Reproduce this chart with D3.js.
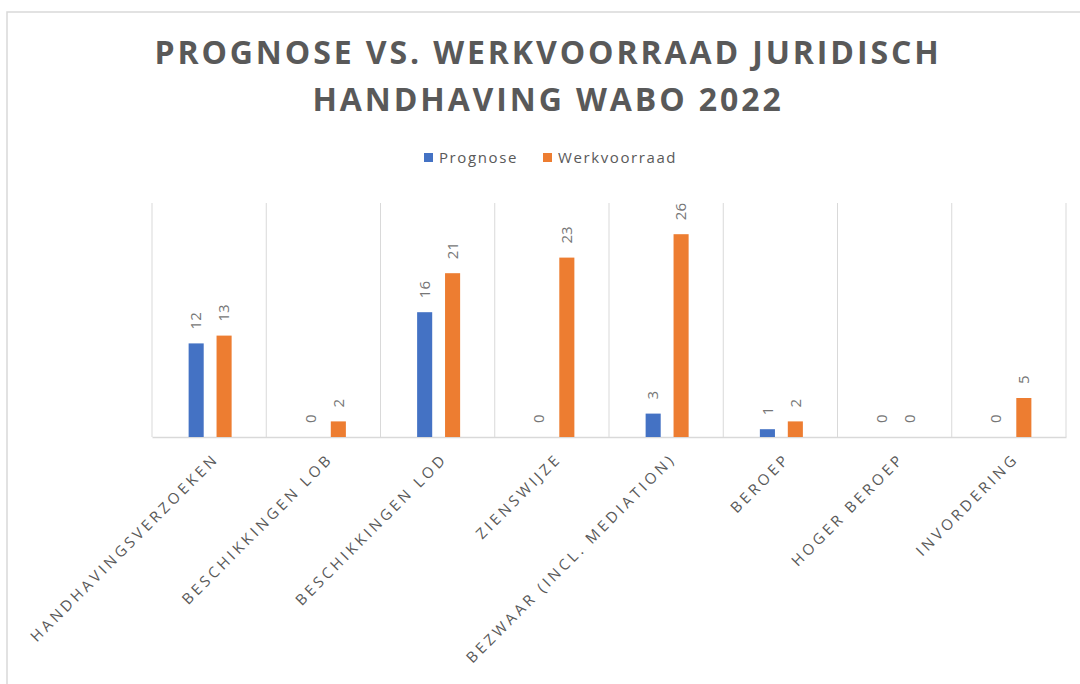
<!DOCTYPE html>
<html>
<head>
<meta charset="utf-8">
<script src="https://cdn.jsdelivr.net/npm/d3@7"></script>
<style>
    body { margin: 0; background: #ffffff; }
    svg { display: block; font-family: "Open Sans", sans-serif; }
</style>
</head>
<body>
<div id="graphic"></div>
<script>
// Dati
var categories = ["Handhavingsverzoeken", "Beschikkingen LOB", "Beschikkingen LOD", "Zienswijze",
    "Bezwaar (incl. mediation)", "Beroep", "Hoger beroep", "Invordering"];
var seriesNames = ["Prognose", "Werkvoorraad"];
var prognose = [12, 0, 16, 0, 3, 1, 0, 0];
var werkvoorraad = [13, 2, 21, 23, 26, 2, 0, 5];
var titleLines = ["PROGNOSE VS. WERKVOORRAAD JURIDISCH", "HANDHAVING WABO 2022"];
var colors = ["#4472c4", "#ed7d31"];

var W = 1080, H = 684;
var margin = {top: 203, right: 14, bottom: 247, left: 152};
var w = W - margin.left - margin.right;
var h = H - margin.top - margin.bottom;

var svg = d3.select('#graphic')
    .append('svg')
    .attr('width', W)
    .attr('height', H);

// bordo del grafico
svg.append('rect')
    .attr('x', 7)
    .attr('y', 12)
    .attr('width', W + 10)
    .attr('height', H + 10)
    .attr('fill', 'none')
    .attr('stroke', '#d9d9d9')
    .attr('stroke-width', 1.5);

// Titolo
svg.append('g')
    .selectAll('text')
    .data(titleLines)
    .enter()
    .append('text')
    .attr('x', 548)
    .attr('y', function (d, i) { return 64 + i * 47; })
    .attr('text-anchor', 'middle')
    .attr('font-size', '32px')
    .attr('font-weight', 'bold')
    .attr('letter-spacing', '2.9px')
    .attr('fill', '#595959')
    .text(function (d) { return d; });

// Legenda
var legendX = [424, 543];
var legend = svg.append('g')
    .selectAll('g')
    .data(seriesNames)
    .enter()
    .append('g')
    .attr('transform', function (d, i) { return 'translate(' + legendX[i] + ',153)'; });
legend.append('rect')
    .attr('width', 9)
    .attr('height', 9)
    .attr('fill', function (d, i) { return colors[i]; });
legend.append('text')
    .attr('x', 15)
    .attr('y', 10)
    .attr('font-size', '15px')
    .attr('letter-spacing', '1.6px')
    .attr('fill', '#595959')
    .text(function (d) { return d; });

var g = svg.append('g')
    .attr('transform', 'translate(' + margin.left + ',' + margin.top + ')');

// Scale
var xScale = d3.scaleBand()
    .domain(categories)
    .range([0, w])
    .padding(0);
var bw = xScale.bandwidth();
var xInner = d3.scaleBand()
    .domain(seriesNames)
    .range([bw / 2 - 20.5, bw / 2 + 22.5])
    .paddingInner(0.46)
    .paddingOuter(0);
var yScale = d3.scaleLinear()
    .domain([0, 30])
    .range([h, 0]);

// griglia verticale tra le categorie
var bounds = categories.map(function (c) { return xScale(c); }).concat([w]);
g.selectAll('.vgrid')
    .data(bounds)
    .enter()
    .append('line')
    .attr('class', 'vgrid')
    .attr('x1', function (d) { return d; })
    .attr('x2', function (d) { return d; })
    .attr('y1', 0)
    .attr('y2', h)
    .attr('stroke', '#d9d9d9')
    .attr('stroke-width', 1);

// asse x
var xAxis = d3.axisBottom(xScale).tickSize(0).tickFormat('');
g.append('g')
    .attr('transform', 'translate(0,' + h + ')')
    .call(xAxis)
    .select('.domain')
    .attr('stroke', '#d9d9d9')
    .attr('stroke-width', 1.5);

// label dell'asse x ruotate
g.selectAll('.xlabel')
    .data(categories)
    .enter()
    .append('text')
    .attr('class', 'xlabel')
    .attr('transform', function (d) {
        return 'translate(' + (xScale(d) + bw / 2 + 7) + ',' + (h + 19) + ') rotate(-45)';
    })
    .attr('dy', '0.35em')
    .attr('text-anchor', 'end')
    .attr('font-size', '15px')
    .attr('letter-spacing', '3.4px')
    .attr('fill', '#595959')
    .text(function (d) { return d.toUpperCase(); });

// Barre
var rows = categories.map(function (c, i) {
    return {cat: c, values: [
        {key: seriesNames[0], value: prognose[i], color: colors[0]},
        {key: seriesNames[1], value: werkvoorraad[i], color: colors[1]}
    ]};
});

var groups = g.selectAll('.group')
    .data(rows)
    .enter()
    .append('g')
    .attr('class', 'group')
    .attr('transform', function (d) { return 'translate(' + xScale(d.cat) + ',0)'; });

groups.selectAll('rect')
    .data(function (d) { return d.values; })
    .enter()
    .append('rect')
    .attr('x', function (d) { return xInner(d.key); })
    .attr('y', function (d) { return yScale(d.value); })
    .attr('width', xInner.bandwidth())
    .attr('height', function (d) { return h - yScale(d.value); })
    .attr('fill', function (d) { return d.color; });

// etichette dei valori
groups.selectAll('.vlabel')
    .data(function (d) { return d.values; })
    .enter()
    .append('text')
    .attr('class', 'vlabel')
    .attr('transform', function (d) {
        return 'translate(' + (xInner(d.key) + xInner.bandwidth() / 2) + ',' + (yScale(d.value) - 14) + ') rotate(-90)';
    })
    .attr('dy', '0.35em')
    .attr('text-anchor', 'start')
    .attr('font-size', '15px')
    .attr('fill', '#767676')
    .text(function (d) { return d.value; });
</script>
</body>
</html>
